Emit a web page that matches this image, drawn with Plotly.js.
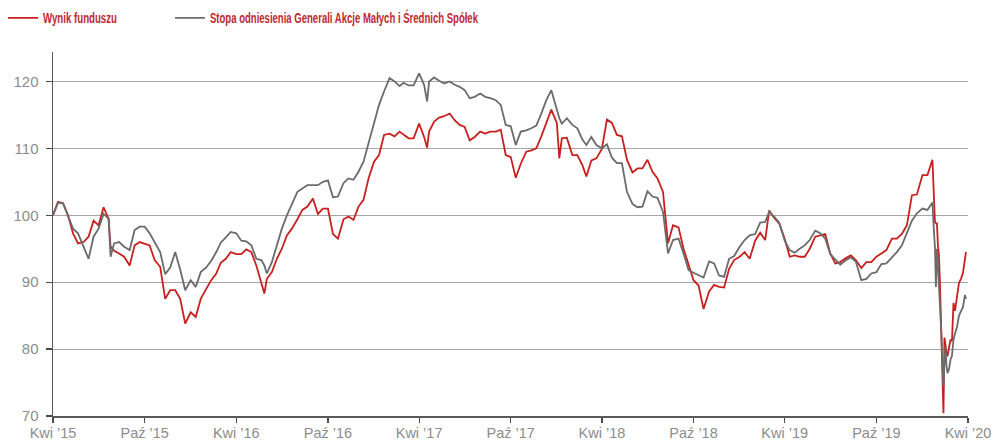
<!DOCTYPE html>
<html>
<head>
<meta charset="utf-8">
<script src="https://cdn.plot.ly/plotly-3.0.1.min.js"></script>
<style>html,body{margin:0;padding:0;background:#fff;}#chart{width:997px;height:441px;}</style>
</head>
<body>
<div id="chart"></div>
<script>
const seriesNames = ["Wynik funduszu", "Stopa odniesienia Generali Akcje Małych i Średnich Spółek"];

const dates = [
"2015-04-01","2015-04-11","2015-04-21","2015-05-01","2015-05-11","2015-05-21","2015-06-01","2015-06-11","2015-06-21",
"2015-07-01","2015-07-11","2015-07-21","2015-07-25","2015-08-01","2015-08-11","2015-08-21","2015-09-01","2015-09-11","2015-09-21",
"2015-10-01","2015-10-11","2015-10-21","2015-11-01","2015-11-11","2015-11-21","2015-12-01","2015-12-11","2015-12-21",
"2016-01-01","2016-01-11","2016-01-21","2016-02-01","2016-02-11","2016-02-21","2016-03-01","2016-03-11","2016-03-21",
"2016-04-01","2016-04-11","2016-04-21","2016-05-01","2016-05-11","2016-05-21","2016-05-27","2016-06-01","2016-06-11","2016-06-21",
"2016-07-01","2016-07-11","2016-07-21","2016-08-01","2016-08-11","2016-08-21","2016-09-01","2016-09-11","2016-09-21",
"2016-10-01","2016-10-11","2016-10-21","2016-11-01","2016-11-11","2016-11-21","2016-12-01","2016-12-11","2016-12-21",
"2017-01-01","2017-01-11","2017-01-21","2017-02-01","2017-02-11","2017-02-21","2017-03-01","2017-03-11","2017-03-21",
"2017-04-01","2017-04-11","2017-04-17","2017-04-21","2017-05-01","2017-05-11","2017-05-21","2017-06-01","2017-06-11","2017-06-21",
"2017-07-01","2017-07-11","2017-07-21","2017-08-01","2017-08-11","2017-08-21","2017-09-01","2017-09-11","2017-09-21",
"2017-10-01","2017-10-11","2017-10-21","2017-11-01","2017-11-11","2017-11-21","2017-12-01","2017-12-11","2017-12-21",
"2018-01-01","2018-01-06","2018-01-11","2018-01-21","2018-02-01","2018-02-11","2018-02-21","2018-03-01","2018-03-11","2018-03-21",
"2018-04-01","2018-04-11","2018-04-21","2018-05-01","2018-05-11","2018-05-21","2018-06-01","2018-06-11","2018-06-21",
"2018-07-01","2018-07-11","2018-07-21","2018-08-01","2018-08-11","2018-08-21","2018-09-01","2018-09-11","2018-09-21",
"2018-10-01","2018-10-11","2018-10-21","2018-11-01","2018-11-11","2018-11-21","2018-12-01","2018-12-11","2018-12-21",
"2019-01-01","2019-01-11","2019-01-21","2019-02-01","2019-02-11","2019-02-21","2019-03-01","2019-03-11","2019-03-21",
"2019-04-01","2019-04-11","2019-04-21","2019-05-01","2019-05-11","2019-05-21","2019-06-01","2019-06-11","2019-06-21",
"2019-07-01","2019-07-11","2019-07-21","2019-08-01","2019-08-11","2019-08-21","2019-09-01","2019-09-11","2019-09-21",
"2019-10-01","2019-10-11","2019-10-21","2019-11-01","2019-11-11","2019-11-21","2019-12-01","2019-12-11","2019-12-21",
"2020-01-01","2020-01-11","2020-01-21","2020-01-24","2020-01-26","2020-01-28","2020-01-30","2020-02-01","2020-02-03","2020-02-05",
"2020-02-08","2020-02-10","2020-02-12","2020-02-14","2020-02-16","2020-02-18","2020-02-20","2020-02-23","2020-02-26","2020-02-29",
"2020-03-03","2020-03-06","2020-03-10","2020-03-14","2020-03-18","2020-03-22","2020-03-26","2020-03-28"
];

const fund = [
100,102,101.8,100,97.3,95.8,96,96.8,99.2,
98.5,101.2,99.5,95.3,94.7,94.3,93.8,92.5,95.5,96,
95.8,95.5,93.3,92.3,87.5,88.8,88.8,87.5,83.8,
85.5,84.8,87.5,89,90.3,91.3,92.9,93.5,94.5,
94.2,94.2,94.9,94.5,92.5,90,88.3,90.5,91.5,93.5,
95,97,98,99.4,100.8,101.3,102.5,100.2,101,
101,97.2,96.5,99.4,99.8,99.3,101.3,102.3,105.5,
108,109,112,112.2,111.8,112.5,112,111.5,111.5,
113.7,111.7,110.1,112.5,114,114.6,114.8,115.2,114.2,113.5,
113.2,111.2,111.7,112.5,112.2,112.5,112.5,112.8,109,
108.7,105.6,107.7,109.5,109.7,110,111.8,113.7,115.8,
113.8,108.5,111.5,111.6,109,109,107.5,105.8,108.2,108.5,
109.9,114.3,113.8,112,111.8,108.3,106.4,107,107,
108.3,106.5,105.5,103.5,95.8,98.5,98.2,95,92.5,
90.3,89.5,86,88.6,89.6,89.3,89.2,92,93.3,
93.8,94.5,93.5,96.2,97.4,96.3,100.7,99.6,98.8,
96.5,93.8,94,93.8,93.8,95,96.8,97,97.2,
94.3,92.8,93,93.6,94,93.3,92.1,93,93,
93.8,94.3,94.8,96.5,96.5,97.2,98.5,103,103.1,
106,106,108.3,101,99,98.8,98.8,95.5,94,89.9,
80.5,74,70.4,81.7,80,79.5,78.9,80.5,81.4,81.2,
86.9,85.7,87.5,89.9,90.5,91.4,93.5,94.5
];

const benchmark = [
100,101.9,101.8,100,98,97.3,95.2,93.5,96.8,
98,100.2,99.5,93.8,95.8,96,95.3,94.8,97.8,98.3,
98.3,97.3,96,94.5,91.2,92.2,94.5,91.9,88.8,
90.3,89.3,91.5,92.2,93.2,94.5,95.9,96.7,97.5,
97.3,96.2,96.1,95.5,93.5,93.3,92.5,91.3,93,95.4,
98,100,101.7,103.5,104,104.5,104.5,104.5,105,
105.2,102.7,102.8,104.8,105.5,105.3,106.5,108,110.7,
114,116.5,118.5,120.5,120,119.3,119.8,119.4,119.4,
121.2,119.5,117,120,120.6,120.1,119.7,120,119.5,119.2,
118.7,117.5,117.7,118.2,117.7,117.5,117.2,116.5,113.5,
113.3,110.5,112.5,112.7,113,113.4,115.2,117.2,118.7,
116,114.5,113.7,114.5,113.5,113,111.3,110.5,111.7,110.5,
110,110.6,108.6,107.8,107.8,103.5,101.7,101.2,101.3,
103.6,102.8,102.6,100.5,94.3,96.3,96.5,94.3,91.8,
91.4,91,90.7,93.1,92.8,91,90.8,93.5,93.9,
95.3,96.3,97,97.2,98.9,99,100.5,99.8,98.9,
96.2,94.8,94.4,95,95.5,96.3,97.7,97.3,96.5,
94.2,93.4,92.6,93.3,93.7,93.1,90.3,90.5,91.3,
91.5,92.7,92.8,93.7,94.5,95.5,97.5,99.2,100.3,
101,100.8,101.9,97.5,95.3,89.3,95,92.5,90,87.3,
82,77.4,74.4,78,80.4,77.5,76.4,77,78.4,79,
81.4,82.3,83.3,85,85.8,86.3,88.1,87.5
];

const tickDates = ["2015-04-01","2015-10-01","2016-04-01","2016-10-01","2017-04-01","2017-10-01","2018-04-01","2018-10-01","2019-04-01","2019-10-01","2020-04-01"];
const tickLabels = ["Kwi ’15","Paź ’15","Kwi ’16","Paź ’16","Kwi ’17","Paź ’17","Kwi ’18","Paź ’18","Kwi ’19","Paź ’19","Kwi ’20"];
const yTicks = [70, 80, 90, 100, 110, 120];

const traces = [
  {x: dates, y: fund, name: seriesNames[0], type: "scatter", mode: "lines",
   line: {color: "#c8201e", width: 1.8}, legendwidth: 122},
  {x: dates, y: benchmark, name: seriesNames[1], type: "scatter", mode: "lines",
   line: {color: "#6b6b6b", width: 1.8}, legendwidth: 300}
];

const yTickFont = {family: "Liberation Sans, Arial, sans-serif", size: 15, color: "#8c8c8c"};
const xTickFont = {family: "Liberation Sans, Arial, sans-serif", size: 14.5, color: "#8c8c8c"};

const layout = {
  width: 997, height: 441,
  margin: {l: 53, r: 29, t: 52, b: 25, pad: 0},
  paper_bgcolor: "#ffffff", plot_bgcolor: "#ffffff",
  showlegend: true,
  legend: {
    orientation: "h", xref: "container", yref: "container",
    x: 0.003, xanchor: "left", y: 0.995, yanchor: "top",
    entrywidthmode: "pixels",
    bgcolor: "rgba(0,0,0,0)", borderwidth: 0,
    font: {family: "Liberation Sans, Arial, sans-serif", size: 14, color: "#c0272d", weight: "bold"},
    traceorder: "normal"
  },
  xaxis: {
    type: "date",
    range: ["2015-04-01", "2020-04-01"],
    tickmode: "array", tickvals: tickDates, ticktext: tickLabels,
    showgrid: false, zeroline: false,
    showline: true, linecolor: "#5a5a5a", linewidth: 1.5,
    ticks: "outside", ticklen: 5, tickwidth: 1.2, tickcolor: "#4a4a4a",
    ticklabelstandoff: -2,
    tickfont: xTickFont, tickangle: 0
  },
  yaxis: {
    range: [70, 124.4],
    tickmode: "array", tickvals: yTicks,
    showgrid: true, gridcolor: "#a6a6a6", gridwidth: 1,
    zeroline: false,
    showline: true, linecolor: "#5a5a5a", linewidth: 1.5,
    ticks: "outside", ticklen: 6, tickwidth: 1.2, tickcolor: "#4a4a4a",
    ticklabelstandoff: 4,
    tickfont: yTickFont
  },
  hovermode: false
};

const legendTextWidths = [74, 268];

Plotly.newPlot("chart", traces, layout, {displayModeBar: false, staticPlot: true}).then(function (gd) {
  const texts = gd.querySelectorAll(".legendtext");
  texts.forEach(function (t, i) {
    if (legendTextWidths[i]) {
      t.setAttribute("textLength", legendTextWidths[i]);
      t.setAttribute("lengthAdjust", "spacingAndGlyphs");
    }
  });
});
</script>
</body>
</html>
